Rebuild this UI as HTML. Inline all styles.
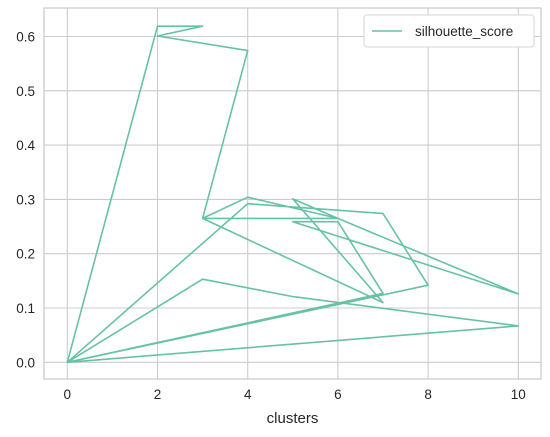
<!DOCTYPE html>
<html><head><meta charset="utf-8"><style>
body{margin:0;background:#fff;}
svg{display:block;font-family:"Liberation Sans",Arial,sans-serif;}
</style></head><body>
<svg id="chart" width="550" height="437" viewBox="0 0 550 437"></svg>
<script>
const xValues = [0,2,3,2,4,3,4,6,3,7,5,6,10,5,6,7,0,4,7,8,0,3,5,10,0];
const yValues = [0,0.619,0.619,0.601,0.574,0.265,0.304,0.265,0.265,0.110,0.301,0.265,0.126,0.259,0.259,0.127,0,0.292,0.274,0.142,0,0.153,0.121,0.067,0];
const xTicks = [0,2,4,6,8,10];
const yTicks = [0.0,0.1,0.2,0.3,0.4,0.5,0.6];

const NS="http://www.w3.org/2000/svg";
const svg=document.getElementById('chart');
const L=44,R=541,T=8,B=379;
const sx=v=>67.3+v*45.1;
const sy=v=>362.3-v*543;
function mk(tag,attrs,parent){const e=document.createElementNS(NS,tag);for(const k in attrs)e.setAttribute(k,attrs[k]);(parent||svg).appendChild(e);return e;}

const grid=mk('g',{});


xTicks.forEach(t=>{
  const l=mk('line',{x1:sx(t),x2:sx(t),y1:T,y2:B,stroke:'#cccccc','stroke-width':1.1},grid);
  
  
  const tx=mk('text',{x:sx(t),y:B+20,'text-anchor':'middle','font-size':13.5,fill:'#262626'});
  tx.textContent=t;
  
  
});
yTicks.forEach(t=>{
  const l=mk('line',{x1:L,x2:R,y1:sy(t),y2:sy(t),stroke:'#cccccc','stroke-width':1.1},grid);
  
  
  const tx=mk('text',{x:L-9,y:sy(t)+5,'text-anchor':'end','font-size':13.5,fill:'#262626'});
  tx.textContent=t.toFixed(1);
  
  
});
const frame=mk('rect',{x:L,y:T,width:R-L,height:B-T,fill:'none',stroke:'#cccccc','stroke-width':1.3});



const pts=xValues.map((x,i)=>sx(x).toFixed(1)+','+sy(yValues[i]).toFixed(1)).join(' ');
const line=mk('polyline',{points:pts,fill:'none',stroke:'#66c2a5','stroke-width':1.6,'stroke-linejoin':'round'});



const xl=mk('text',{x:(L+R)/2,y:423,'text-anchor':'middle','font-size':15,fill:'#262626'});
xl.textContent='clusters';



const lg=mk('g',{});


mk('rect',{x:364,y:15,width:170,height:32,rx:3,fill:'#fff',stroke:'#d6d6d6','stroke-width':1},lg);
const ll=mk('line',{x1:372,x2:402,y1:31,y2:31,stroke:'#66c2a5','stroke-width':1.6},lg);


const lt=mk('text',{x:415,y:36,'font-size':13.5,fill:'#262626'},lg);
lt.textContent='silhouette_score';


</script>
</body></html>
